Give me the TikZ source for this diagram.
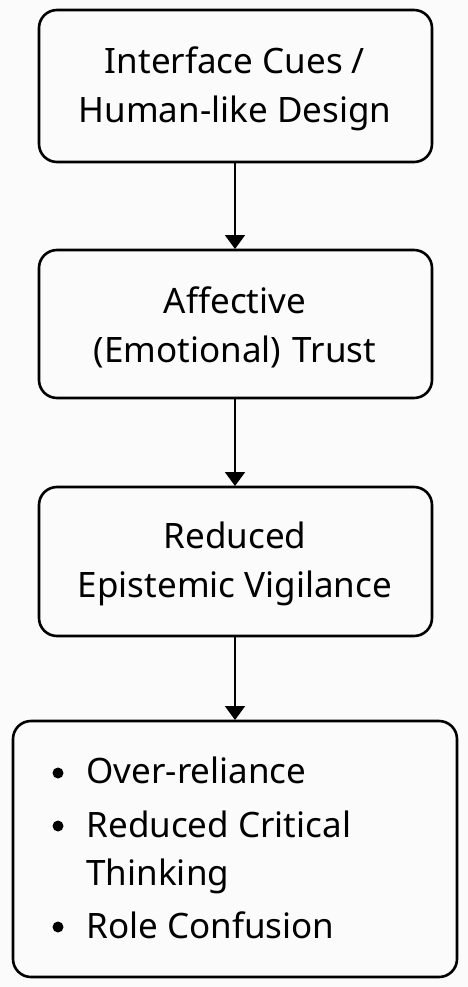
\documentclass[tikz,border=0pt]{standalone}
\usepackage{fontspec}
\setmainfont{Noto Sans}
\usetikzlibrary{arrows.meta}
\definecolor{bg}{HTML}{FBFBFB}
\begin{document}
\begin{tikzpicture}[x=1pt,y=-1pt,
  box/.style={draw=black,line width=2.6pt,rounded corners=18pt},
  txt/.style={font=\fontsize{35}{49}\selectfont,align=center,anchor=base},
  conn/.style={line width=2pt,-{Triangle[width=20pt,length=14pt]}}]
\fill[bg] (0,0) rectangle (468,987);
\useasboundingbox (0,0) rectangle (468,987);
\draw[box] (39,10) rectangle (432,162);
\draw[box] (39,250) rectangle (432,398);
\draw[box] (39,487) rectangle (432,636);
\draw[box] (13,721) rectangle (457,977);
\coordinate (b1) at (235,162);
\coordinate (t2) at (235,249);
\coordinate (b2) at (235,398);
\coordinate (t3) at (235,486);
\coordinate (b3) at (235,636);
\coordinate (t4) at (235,720);
\node[txt] (n1a) at (235,74) {Interface Cues /};
\node[txt] (n1b) at (235,123) {Human-like Design};
\node[txt] (n2a) at (235,313) {Affective};
\node[txt] (n2b) at (235,362) {(Emotional)\,\,Trust};
\node[txt] (n3a) at (235,548) {Reduced};
\node[txt] (n3b) at (235,597) {Epistemic Vigilance};
\begin{scope}[every node/.style={font=\fontsize{35}{49}\selectfont,anchor=base west}]
\node (l1) at (83,783) {Over-reliance};
\node (l2) at (83,837) {Reduced Critical};
\node (l3) at (83,885) {Thinking};
\node (l4) at (83,938) {Role Confusion};
\end{scope}
\fill (58,773) circle[radius=5.5pt];
\fill (58,826) circle[radius=5.5pt];
\fill (58,927) circle[radius=5.5pt];
\draw[conn] (b1) -- (t2);
\draw[conn] (b2) -- (t3);
\draw[conn] (b3) -- (t4);
\end{tikzpicture}
\end{document}
